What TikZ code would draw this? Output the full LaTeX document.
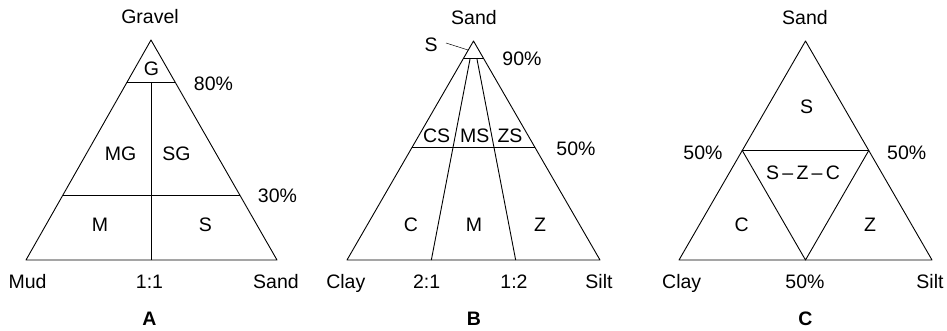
\documentclass[tikz,border=0pt]{standalone}
\usepackage{fontspec}
\setmainfont{Liberation Sans}
\usetikzlibrary{calc}
\begin{document}
\begin{tikzpicture}[x=1pt,y=-1pt,
  edge/.style={line width=0.9pt, line join=round},
  leader/.style={line width=0.5pt},
  lbl/.style={font=\fontsize{19.5}{22}\selectfont, inner sep=0pt, text height=13.5pt, text depth=0pt, anchor=center},
  ttl/.style={lbl, font=\fontsize{19.5}{22}\selectfont\bfseries}]
\useasboundingbox (0,0) rectangle (947,331);

% ---------- A ----------
\coordinate (Atop) at (151,40);
\coordinate (Al) at (26,260);
\coordinate (Ar) at (277,260);
\coordinate (Amid) at (151,260);
\coordinate (A80l) at ($(Atop)!0.192!(Al)$);
\coordinate (A80r) at ($(Atop)!0.192!(Ar)$);
\coordinate (A30l) at ($(Atop)!0.705!(Al)$);
\coordinate (A30r) at ($(Atop)!0.705!(Ar)$);
\draw[edge] (Atop) -- (Al) -- (Ar) -- cycle;
\draw[edge] (A80l) -- (A80r);
\draw[edge] (A30l) -- (A30r);
\draw[edge] (Amid) -- (Amid |- A80l);

\node[lbl] (aGravel) at (150,17) {Gravel};
\node[lbl] (a80) at (213.5,84) {80\%};
\node[lbl] (a30) at (277.5,196) {30\%};
\node[lbl] (aG) at (151.5,69) {G};
\node[lbl] (aMG) at (120.5,153.5) {MG};
\node[lbl] (aSG) at (176.5,153.5) {SG};
\node[lbl] (aM) at (100,225) {M};
\node[lbl] (aS) at (205.5,225) {S};
\node[lbl] (aMud) at (27.5,281.5) {Mud};
\node[lbl] (a11) at (149.5,281.5) {1:1};
\node[lbl] (aSand) at (276,281.5) {Sand};
\node[ttl] (aTitle) at (149.5,319) {A};

% ---------- B ----------
\coordinate (Btop) at (473.5,41);
\coordinate (Bl) at (347,260);
\coordinate (Br) at (600,260);
\coordinate (B21) at ($(Bl)!1/3!(Br)$);
\coordinate (B12) at ($(Bl)!2/3!(Br)$);
\coordinate (B90l) at ($(Btop)!0.078!(Bl)$);
\coordinate (B90r) at ($(Btop)!0.078!(Br)$);
\coordinate (B50l) at ($(Btop)!0.484!(Bl)$);
\coordinate (B50r) at ($(Btop)!0.484!(Br)$);
\coordinate (B21t) at ($(B21)!0.922!(Btop)$);
\coordinate (B12t) at ($(B12)!0.922!(Btop)$);
\draw[edge] (Btop) -- (Bl) -- (Br) -- cycle;
\draw[edge] (B90l) -- (B90r);
\draw[edge] (B50l) -- (B50r);
\draw[edge] (B21) -- (B21t);
\draw[edge] (B12) -- (B12t);
\coordinate (BSa) at (446,43);
\coordinate (BSb) at (468,50);
\draw[leader] (BSa) -- (BSb);

\node[lbl] (bSand) at (474,18) {Sand};
\node[lbl] (bS) at (431,45) {S};
\node[lbl] (b90) at (522,58.3) {90\%};
\node[lbl] (bCS) at (436.7,136) {CS};
\node[lbl] (bMS) at (474.7,136) {MS};
\node[lbl] (bZS) at (510,136) {ZS};
\node[lbl] (b50) at (576,149) {50\%};
\node[lbl] (bC) at (410.8,225) {C};
\node[lbl] (bM) at (474,225) {M};
\node[lbl] (bZ) at (540,225) {Z};
\node[lbl] (bClay) at (345.8,281.5) {Clay};
\node[lbl] (b21) at (426.7,281.5) {2:1};
\node[lbl] (b12) at (514,281.5) {1:2};
\node[lbl] (bSilt) at (599,281.5) {Silt};
\node[ttl] (bTitle) at (474,319) {B};

% ---------- C ----------
\coordinate (Ctop) at (805.5,41);
\coordinate (Cl) at (679,260);
\coordinate (Cr) at (932,260);
\coordinate (Cml) at ($(Ctop)!0.5!(Cl)$);
\coordinate (Cmr) at ($(Ctop)!0.5!(Cr)$);
\coordinate (Cmb) at ($(Cl)!0.5!(Cr)$);
\draw[edge] (Ctop) -- (Cl) -- (Cr) -- cycle;
\draw[edge] (Cml) -- (Cmr) -- (Cmb) -- cycle;

\node[lbl] (cSand) at (805,18) {Sand};
\node[lbl] (cS) at (806.7,106.7) {S};
\node[lbl] (c50l) at (703,153) {50\%};
\node[lbl] (c50r) at (906.7,153) {50\%};
\node[lbl] (cSZC) at (803,173) {S\,–\,Z\,–\,C};
\node[lbl] (cC) at (741.7,225) {C};
\node[lbl] (cZ) at (870,225) {Z};
\node[lbl] (cClay) at (681.7,281.5) {Clay};
\node[lbl] (c50b) at (805,281.5) {50\%};
\node[lbl] (cSilt) at (930,281.5) {Silt};
\node[ttl] (cTitle) at (805.5,319) {C};
\end{tikzpicture}
\end{document}
